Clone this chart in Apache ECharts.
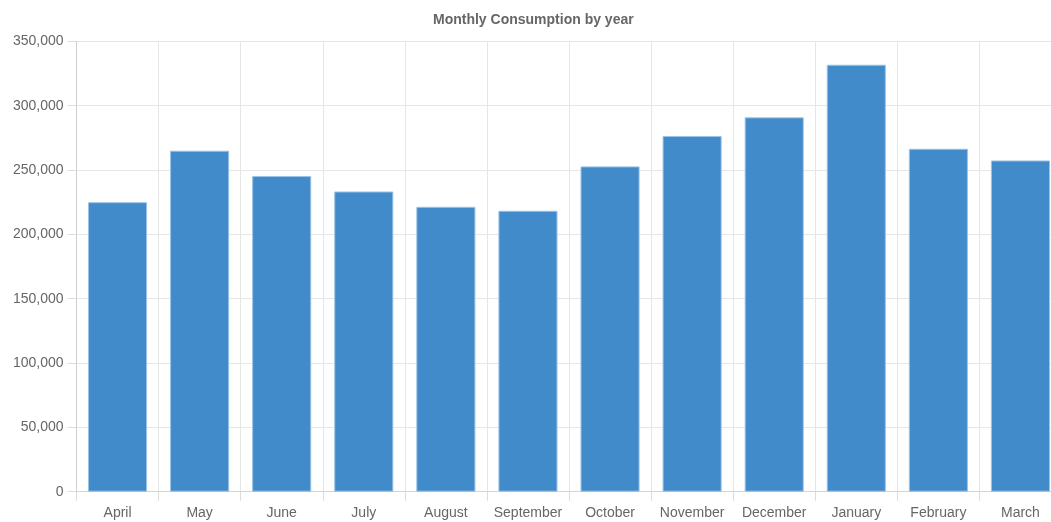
<!DOCTYPE html>
<html>
<head>
<meta charset="utf-8">
<script src="https://cdn.jsdelivr.net/npm/echarts@6/dist/echarts.min.js"></script>
<style>
html,body{margin:0;padding:0;background:#fff;overflow:hidden;width:1051px;height:522px;}
#chart{width:1062px;height:522px;}
</style>
</head>
<body>
<div id="chart"></div>
<script>
const titleText = 'Monthly Consumption by year';
const months = ['April','May','June','July','August','September','October','November','December','January','February','March'];
const consumption = [225000, 265000, 245300, 233300, 221400, 218300, 252800, 276400, 290900, 331800, 266500, 257400];
const yTicks = [0, 50000, 100000, 150000, 200000, 250000, 300000, 350000];

const chart = echarts.init(document.getElementById('chart'), null, {renderer: 'canvas'});
const font = '"Liberation Sans", Arial, Helvetica, sans-serif';
chart.setOption({
  animation: false,
  title: {
    text: titleText,
    left: 433,
    top: 13,
    padding: 0,
    textStyle: {fontFamily: font, fontSize: 14, fontWeight: 'bold', color: '#666'}
  },
  grid: {left: 76.5, right: 0.5, top: 41.3, bottom: 30.3, containLabel: false},
  xAxis: {
    type: 'category',
    data: months,
    boundaryGap: true,
    axisLine: {show: true, lineStyle: {color: '#d4d4d4', width: 1}},
    axisTick: {show: true, length: 9, alignWithLabel: false, lineStyle: {color: '#dcdcdc'}},
    splitLine: {show: true, lineStyle: {color: '#e6e6e6', width: 1}},
    axisLabel: {color: '#666', fontFamily: font, fontSize: 14, margin: 14, interval: 0}
  },
  yAxis: {
    type: 'value',
    min: yTicks[0],
    max: yTicks[yTicks.length - 1],
    interval: yTicks[1] - yTicks[0],
    axisLine: {show: true, lineStyle: {color: '#cfcfcf', width: 1}},
    axisTick: {show: true, length: 9, lineStyle: {color: '#dcdcdc'}},
    splitLine: {show: true, lineStyle: {color: '#e6e6e6', width: 1}},
    axisLabel: {
      color: '#666', fontFamily: font, fontSize: 14, margin: 13,
      formatter: v => v.toLocaleString('en-US')
    }
  },
  series: [{
    type: 'bar',
    data: consumption,
    barCategoryGap: '28%',
    itemStyle: {color: '#428bca', borderColor: '#9cc4e6', borderWidth: 1}
  }]
});
</script>
</body>
</html>
